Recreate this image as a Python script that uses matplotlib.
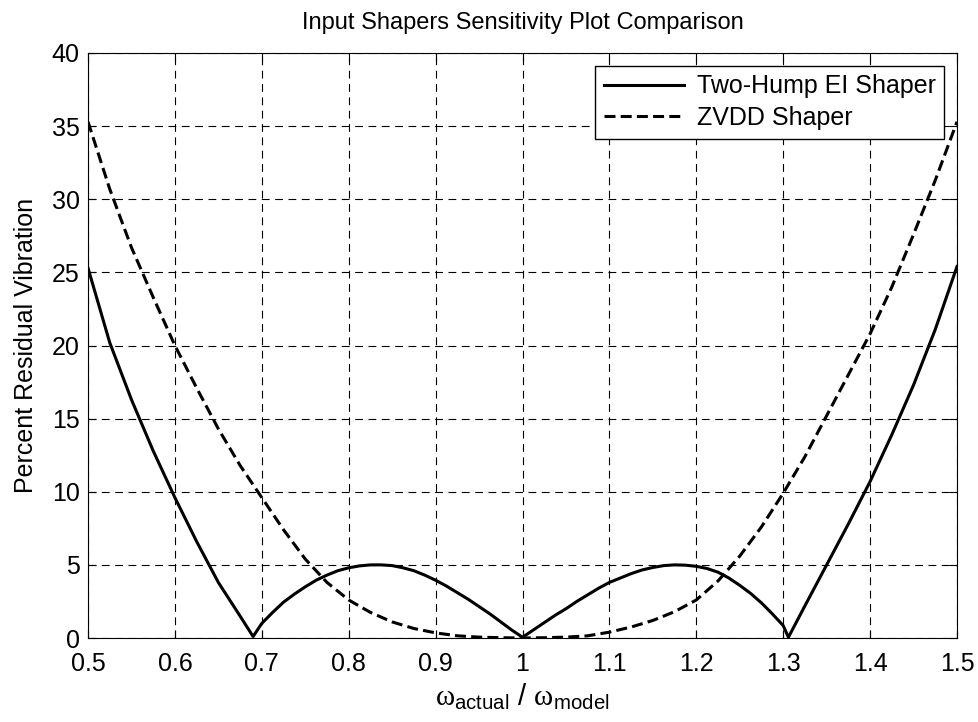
import matplotlib
matplotlib.use("Agg")
import matplotlib.pyplot as plt

plt.rcParams['font.family'] = ['Liberation Sans', 'DejaVu Sans']
plt.rcParams['mathtext.fontset'] = 'custom'
plt.rcParams['mathtext.rm'] = 'Liberation Serif'
plt.rcParams['mathtext.sf'] = 'Liberation Sans'
plt.rcParams['mathtext.it'] = 'Liberation Sans:italic'

# values
ei_x = [0.5, 0.525, 0.55, 0.575, 0.6, 0.625, 0.65, 0.675, 0.69,
        0.7, 0.7125, 0.725, 0.7375, 0.75, 0.7625, 0.775, 0.7875, 0.8, 0.8125, 0.825,
        0.8375, 0.85, 0.8625, 0.875, 0.8875, 0.9, 0.9125, 0.925, 0.9375, 0.95,
        0.9625, 0.975, 0.9875, 1.0,
        1.0125, 1.025, 1.0375, 1.05, 1.0625, 1.075, 1.0875, 1.1, 1.1125, 1.125,
        1.1375, 1.15, 1.1625, 1.175, 1.1875, 1.2, 1.2125, 1.225, 1.2375, 1.25,
        1.2625, 1.275, 1.2875, 1.3, 1.306,
        1.325, 1.35, 1.375, 1.4, 1.425, 1.45, 1.475, 1.5]
ei_y = [25.3, 20.2, 16.3, 12.8, 9.6, 6.6, 3.8, 1.5, 0.1,
        1.0, 1.75, 2.45, 3.0, 3.5, 3.95, 4.3, 4.6, 4.8, 4.93, 5.0,
        5.0, 4.95, 4.8, 4.6, 4.3, 3.95, 3.55, 3.1, 2.65, 2.15,
        1.65, 1.1, 0.55, 0.05,
        0.55, 1.05, 1.55, 2.0, 2.5, 2.95, 3.4, 3.8, 4.1, 4.4,
        4.65, 4.82, 4.95, 5.0, 4.98, 4.9, 4.75, 4.5, 4.1, 3.6,
        3.05, 2.4, 1.65, 0.85, 0.05,
        2.2, 5.0, 7.8, 10.7, 13.9, 17.3, 21.1, 25.4]

zvdd_x = [0.5, 0.525, 0.55, 0.575, 0.6, 0.625, 0.65, 0.675, 0.7, 0.725, 0.75, 0.775,
          0.8, 0.825, 0.85, 0.875, 0.9, 0.925, 0.95, 0.975, 1.0,
          1.025, 1.05, 1.075, 1.1, 1.125, 1.15, 1.175, 1.2, 1.225, 1.25, 1.275,
          1.3, 1.325, 1.35, 1.375, 1.4, 1.425, 1.45, 1.475, 1.5]
zvdd_y = [35.3, 30.7, 26.7, 23.3, 20.0, 17.1, 14.3, 11.8, 9.6, 7.4, 5.4, 3.8,
          2.6, 1.75, 1.1, 0.65, 0.35, 0.15, 0.06, 0.02, 0.0,
          0.02, 0.06, 0.15, 0.4, 0.75, 1.2, 1.8, 2.6, 3.9, 5.6, 7.6,
          9.9, 12.4, 15.2, 18.0, 20.8, 24.0, 27.6, 31.3, 35.3]

xticks = [0.5, 0.6, 0.7, 0.8, 0.9, 1, 1.1, 1.2, 1.3, 1.4, 1.5]
xticklabels = ['0.5', '0.6', '0.7', '0.8', '0.9', '1', '1.1', '1.2', '1.3', '1.4', '1.5']
yticks = [0, 5, 10, 15, 20, 25, 30, 35, 40]

fig = plt.figure(figsize=(9.79, 7.22), dpi=100)
ax = fig.add_axes([88/979, 1 - 638/722, (957 - 88)/979, (638 - 53)/722])

ax.plot(ei_x, ei_y, color='black', lw=2.2, label='Two-Hump EI Shaper')
ax.plot(zvdd_x, zvdd_y, color='black', lw=2.2, linestyle=(0, (3.6, 1.7)), label='ZVDD Shaper')

ax.set_xlim(0.5, 1.5)
ax.set_ylim(0, 40)
ax.set_xticks(xticks)
ax.set_xticklabels(xticklabels)
ax.set_yticks(yticks)
ax.tick_params(direction='in', top=True, right=True, labelsize=18, length=6)
ax.tick_params(axis='x', pad=10)
ax.tick_params(axis='y', pad=6)
ax.grid(True, color='black', linestyle=(0, (7, 5)), lw=0.8)

ax.set_title('Input Shapers Sensitivity Plot Comparison', fontsize=17, pad=17)
ax.set_ylabel('Percent Residual Vibration', fontsize=18, labelpad=10)
ax.set_xlabel(r'$\mathrm{\omega}_{\mathsf{actual}}\mathsf{\ /\ }\mathrm{\omega}_{\mathsf{model}}$',
              fontsize=21, labelpad=4)

leg = ax.legend(loc='upper right', fontsize=18, fancybox=False, edgecolor='black',
                framealpha=1, handlelength=3.2, handletextpad=0.5,
                labelspacing=0.3, borderpad=0.35, borderaxespad=0.5)
leg.get_frame().set_linewidth(1.0)

fig.savefig('out.png', dpi=100)
